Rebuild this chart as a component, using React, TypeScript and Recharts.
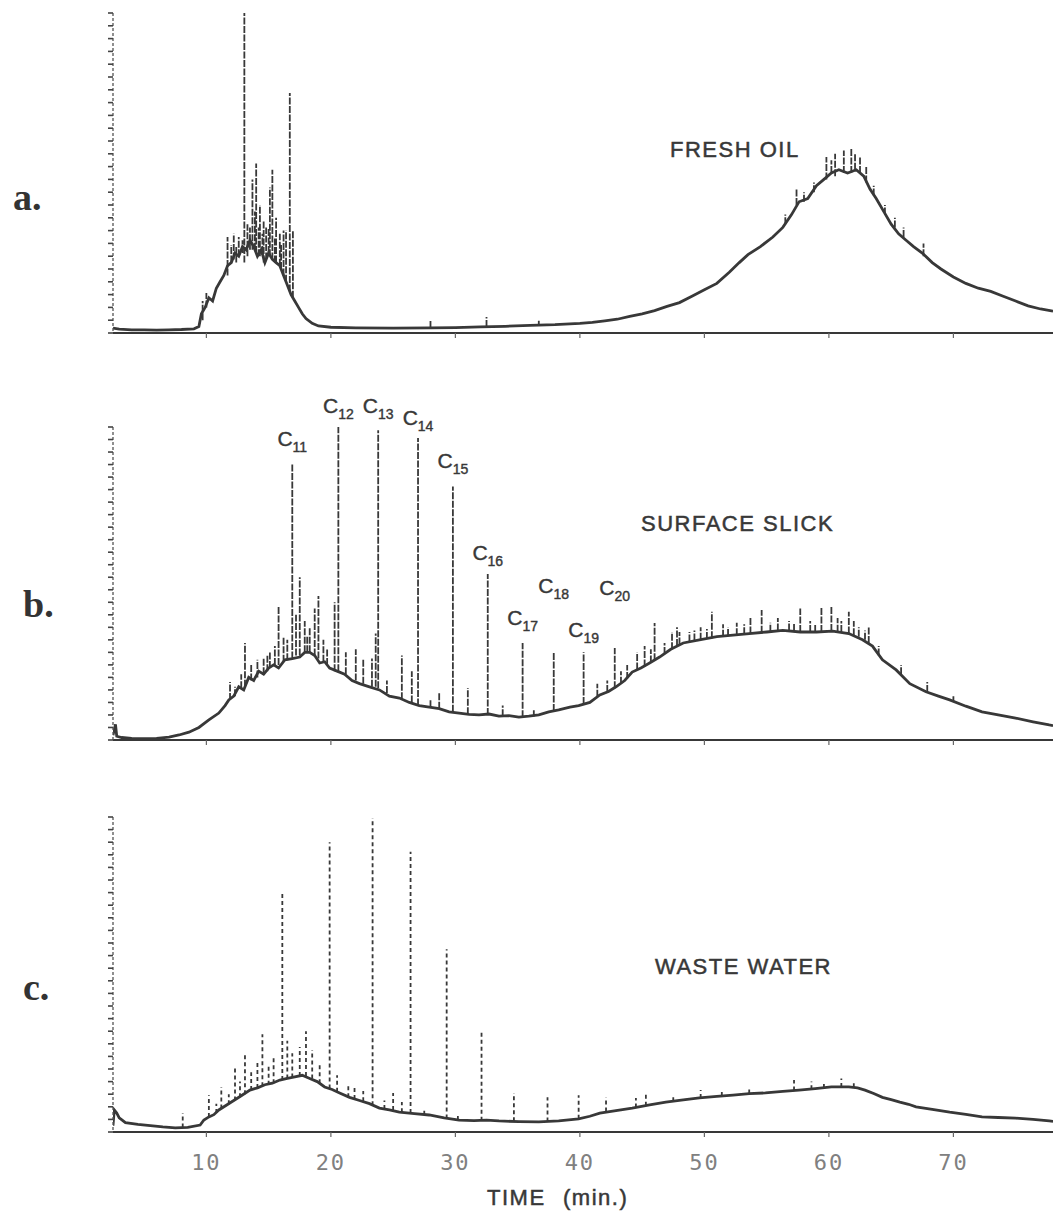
import React from 'react';
import { LineChart, Line, XAxis, YAxis, ReferenceDot } from 'recharts';

// retention time axis (min.)
const TIME_TICKS = [10, 20, 30, 40, 50, 60, 70];
const RESPONSE_TICKS = [0, 4, 8, 12, 16, 20, 24, 28, 32, 36, 40, 44, 48, 52, 56, 60, 64, 68, 72, 76, 80, 84, 88, 92, 96, 100];

// a. fresh oil: baseline trace [time, response]
const freshOilTrace: [number, number][] = [
  [2.5, 1.5], [3, 1.2], [4, 1.0], [5, 1.0], [6, 0.9], [7, 1.0], [8, 1.1], [9, 1.3], [9.4, 2], [9.6, 6],
  [9.9, 8], [10.2, 11], [10.5, 10], [10.8, 14], [11.1, 16], [11.4, 18], [11.7, 21], [12.0, 22], [12.3, 25],
  [12.6, 24], [12.9, 27], [13.2, 26], [13.5, 29], [13.8, 27], [14.1, 24], [14.4, 26], [14.7, 22], [15.0, 25],
  [15.3, 23], [15.6, 22], [15.9, 21], [16.2, 18], [16.5, 15], [16.8, 12], [17.1, 10], [17.4, 8], [17.7, 6],
  [18.0, 4.5], [18.5, 3], [19, 2.2], [20, 1.8], [22, 1.6], [25, 1.5], [28, 1.6], [30, 1.7], [32, 1.9],
  [34, 2.1], [36, 2.4], [38, 2.6], [40, 3.0], [41, 3.3], [42, 3.8], [43, 4.3], [44, 5.2], [45, 6], [46, 7],
  [47, 8.3], [48, 9.5], [49, 11.5], [50, 13.5], [51, 15.5], [52, 19], [52.8, 22], [53.5, 24.5], [54.5, 27],
  [55.5, 30], [56.3, 33], [57, 37], [57.6, 41], [58.3, 42], [59, 46], [59.6, 48], [60.2, 50], [60.8, 51],
  [61.5, 50], [62.2, 51], [62.8, 49], [63.3, 45], [63.8, 42], [64.4, 38], [65, 34], [65.6, 31], [66.2, 29],
  [66.8, 27], [67.5, 25], [68.3, 22], [69, 20], [70, 17.5], [71, 15.5], [72, 14], [73, 13], [74, 11.5],
  [75, 10], [76, 8.5], [77, 7.5], [78, 6.8],
];
// a. fresh oil: resolved peaks [time, foot, apex]
const freshOilPeaks: [number, number, number][] = [
  [9.7, 4, 10], [10.0, 8, 12.5], [11.7, 18, 30], [12.0, 22, 27.5], [12.2, 23, 31], [12.4, 22, 27],
  [12.6, 24, 30], [12.9, 25, 29], [13.05, 22, 100], [13.3, 24, 34], [13.5, 26, 33], [13.7, 26, 48],
  [13.9, 26, 38], [14.0, 25, 53], [14.2, 24, 33], [14.3, 24, 40], [14.5, 25, 31], [14.6, 22, 35],
  [14.8, 23, 33], [15.0, 25, 33], [15.1, 24, 45.5], [15.3, 23, 51], [15.5, 22, 30], [15.6, 22, 36],
  [15.9, 21, 31], [16.0, 20, 28], [16.2, 18, 32], [16.4, 16, 32], [16.7, 13, 75], [16.95, 11, 32],
  [28, 1.6, 4], [32.5, 1.9, 5], [36.7, 2.4, 3.8], [56.5, 34, 37], [57.4, 40, 45], [58, 41, 44],
  [58.8, 44, 47], [59.8, 48, 55], [60.2, 50, 54], [60.5, 49, 56], [61.2, 50, 57], [61.8, 50, 58],
  [62.1, 51, 56], [62.5, 50, 55], [63.0, 47, 52], [63.6, 43, 46], [64.5, 37, 40], [65.3, 33, 36],
  [66, 30, 33], [67.6, 24, 28],
];

// b. surface slick
const surfaceSlickTrace: [number, number][] = [
  [2.5, 1.5], [2.7, 5], [2.8, 1.2], [3.2, 0.8], [4, 0.5], [5, 0.4], [6, 0.5], [7, 0.9], [7.8, 1.6], [8.6, 2.5],
  [9.4, 4], [10.2, 6.4], [11, 8.6], [11.5, 11], [11.8, 12.8], [12.2, 14], [12.6, 17], [13.0, 16], [13.4, 20],
  [13.8, 19], [14.2, 22], [14.6, 21], [15.0, 23], [15.4, 24], [15.8, 23], [16.3, 25.6], [16.9, 26], [17.5, 26.5],
  [17.9, 28], [18.3, 28], [18.7, 27], [19.1, 24.6], [19.5, 25], [19.9, 23], [20.5, 22], [21.1, 21], [21.7, 19],
  [22.3, 18], [23.1, 17], [23.9, 16], [24.7, 14], [25.5, 13.4], [26.3, 12], [27.1, 11], [27.9, 10.5], [28.7, 10],
  [29.5, 9], [30.3, 8.6], [31.1, 8.2], [31.9, 8], [32.7, 8.3], [33.5, 7.6], [34.3, 7.8], [35.1, 7.3], [35.9, 7.6],
  [36.7, 8], [37.5, 9], [38.3, 9.6], [39.2, 10.5], [39.9, 11], [40.8, 12], [41.6, 14.4], [42.3, 15.5], [42.9, 17],
  [43.6, 19], [44.2, 21.7], [44.9, 23], [45.6, 24.6], [46.4, 26.5], [47.3, 29], [48.3, 31], [49.6, 32], [51, 33],
  [52.3, 33.5], [53.6, 34], [55, 34.5], [56.3, 35], [57.7, 34.5], [59, 34.5], [60.3, 34.8], [61.6, 34], [62.7, 32],
  [63.5, 30], [64.3, 25.6], [65.4, 22.4], [66.5, 18], [67.8, 15.4], [68.8, 14], [69.7, 12.8], [71, 10.8],
  [72.3, 9], [73.6, 8], [75, 7], [76.4, 5.8], [77.7, 4.8], [78, 4.6],
];
const surfaceSlickPeaks: [number, number, number][] = [
  [11.9, 12.8, 18.5], [12.3, 14, 17], [12.8, 16.5, 21], [13.1, 17, 31], [13.6, 19, 24], [14.1, 20, 25.6],
  [14.6, 21, 26], [14.9, 22, 27], [15.1, 23, 28], [15.5, 24, 30], [15.8, 24, 43], [16.2, 25, 33],
  [16.5, 25.5, 32], [16.9, 26, 88], [17.2, 27, 40], [17.5, 27, 52], [17.9, 28, 38], [18.1, 28, 33],
  [18.3, 28, 36], [18.7, 27, 42], [19.0, 26, 46], [19.4, 25, 32], [19.7, 24, 29], [20.3, 22, 44],
  [20.6, 22, 100], [21.2, 21, 28], [22.0, 19, 29], [22.6, 18, 26], [23.3, 17, 26], [23.6, 17, 34],
  [23.8, 16.5, 99], [24.5, 15, 19], [25.7, 13, 27], [26.5, 12, 22], [27.0, 11, 96.5], [28.0, 10.5, 13],
  [28.7, 10, 15], [29.8, 9, 81], [31.0, 8.2, 16.6], [32.6, 8, 53], [33.8, 7.6, 11], [35.4, 7.3, 31],
  [36.3, 7.5, 9.5], [37.9, 9.3, 28], [40.3, 11.5, 28], [41.4, 13.8, 18], [42.2, 15.3, 19], [42.8, 16.5, 29.4],
  [43.3, 18, 22], [43.8, 19.5, 24], [44.6, 22.5, 28], [45.2, 23.5, 30], [45.7, 24.8, 29], [46.0, 25.5, 37.4],
  [46.8, 27.5, 31], [47.4, 29, 34.5], [47.8, 30, 36], [48.0, 30.5, 34.5], [48.8, 31.5, 34.5], [49.2, 31.8, 35],
  [49.7, 32, 36], [50.2, 32.3, 35.5], [50.6, 32.5, 41], [51.5, 33, 37], [51.9, 33.2, 36], [52.6, 33.5, 37.5],
  [53.2, 33.8, 37], [53.7, 34, 39], [54.6, 34.3, 41.5], [55.3, 34.6, 37.5], [55.9, 35, 39], [56.8, 35, 38],
  [57.2, 34.8, 37.5], [57.7, 34.5, 42], [58.5, 34.5, 38], [58.9, 34.5, 37], [59.4, 34.5, 42.5],
  [60.2, 34.8, 42.5], [60.7, 34.6, 39], [61.0, 34.5, 38], [61.6, 34, 41], [62.0, 33.5, 38], [62.4, 33, 36],
  [62.9, 32, 35], [63.2, 31, 36], [64.0, 27, 30], [65.8, 21, 24], [67.9, 15.3, 18.5], [70.0, 12.5, 14],
];
// n-alkane labels: [carbon number, peak time, label height]
const alkaneLabels: [string, number, number][] = [
  ['11', 16.9, 94], ['12', 20.6, 104.5], ['13', 23.8, 104.5], ['14', 27.0, 100.6], ['15', 29.8, 87],
  ['16', 32.6, 57.5], ['17', 35.4, 36.7], ['18', 37.9, 47], ['19', 40.3, 33], ['20', 42.8, 46.3],
];

// c. waste water
const wasteWaterTrace: [number, number][] = [
  [2.5, 2], [2.6, 7], [2.8, 6], [3.0, 4.5], [3.5, 3], [4.5, 2.4], [5.5, 2], [6.5, 1.6], [7.5, 1.3], [8.5, 1.5],
  [9.5, 2.2], [9.8, 3.8], [10.2, 4.8], [10.6, 5.5], [11, 7], [11.6, 8.5], [12.2, 10], [12.8, 11.5], [13.5, 13.3],
  [14.1, 14], [14.7, 15], [15.3, 15.5], [15.9, 16.5], [16.5, 17], [17.1, 17.5], [17.7, 18], [18.3, 17],
  [18.9, 16], [19.5, 14.3], [20.1, 13.5], [20.7, 12.4], [21.5, 11], [22.3, 10], [23.1, 9], [23.9, 7.6],
  [24.7, 7], [25.5, 6.3], [26.7, 5.8], [27.9, 5.4], [29.1, 4.5], [30.3, 3.8], [31.5, 3.6], [32.5, 3.8],
  [33.5, 3.5], [35.1, 3.3], [36.7, 3.2], [38.3, 3.5], [39.9, 4.2], [40.8, 5], [41.6, 6], [42.9, 6.8],
  [44.2, 7.6], [45.6, 8.6], [46.9, 9.5], [48.3, 10.2], [49.6, 10.8], [51, 11.3], [52.3, 11.7], [53.6, 12.2],
  [54.9, 12.4], [56.3, 12.9], [57.6, 13.3], [58.9, 13.8], [60.2, 14.3], [61.6, 14.3], [62.3, 14], [62.9, 13.3],
  [63.6, 12.2], [64.3, 11], [65, 10.3], [65.7, 9.5], [66.4, 8.8], [67, 8], [68.3, 7.2], [69.7, 6.3], [71, 5.6],
  [72.3, 4.8], [73.6, 4.6], [75, 4.4], [76.4, 4], [77.7, 3.5], [78, 3.4],
];
const wasteWaterPeaks: [number, number, number][] = [
  [8.1, 1.4, 6], [10.2, 4.8, 11.7], [10.8, 6, 9], [11.2, 7.5, 14.3], [11.8, 8.8, 12], [12.3, 10, 21],
  [12.7, 11, 16], [13.1, 12, 24.4], [13.6, 13.3, 19], [14.1, 14, 22], [14.5, 14.5, 31], [15.0, 15, 21],
  [15.4, 15.5, 24], [16.1, 16.5, 76], [16.5, 17, 29], [16.9, 17.3, 25], [17.5, 17.8, 27], [18.0, 17.8, 32],
  [18.5, 17, 26], [19.1, 15.5, 22], [19.9, 13.8, 92], [20.5, 12.8, 18], [21.4, 11, 15], [21.9, 10.5, 14.3],
  [22.6, 9.8, 13], [23.35, 8.5, 99.7], [24.3, 7.3, 10], [25.0, 7, 12.4], [25.7, 6.3, 9.5], [26.4, 6, 89],
  [27.5, 5.5, 7], [29.3, 4.3, 58], [30.2, 3.8, 5.5], [32.1, 3.6, 32], [34.7, 3.4, 12.4], [37.4, 3.3, 11],
  [39.9, 4.2, 11.7], [42.1, 6.5, 11], [44.5, 7.8, 10.8], [45.3, 8.3, 12.4], [47.5, 9.8, 11.5],
  [49.7, 10.8, 13.3], [51.4, 11.4, 13], [53.6, 12.2, 14], [57.2, 13.2, 16.5], [58.6, 13.6, 16],
  [59.6, 14, 16.2], [61.0, 14.3, 17], [62.0, 14.2, 16],
];

const INK = '#383838';

const toTrace = (pts: [number, number][]) => pts.map(([t, v]) => ({ t, v }));
// each peak becomes a vertical stroke; the null breaks the line between peaks
const toPeaks = (pks: [number, number, number][]) =>
  pks.flatMap(([t, foot, apex]) => [
    { t, v: foot },
    { t, v: apex },
    { t, v: null },
  ]);

interface PanelProps {
  top: number;
  plotTop: number;
  plotHeight: number;
  trace: [number, number][];
  peaks: [number, number, number][];
  dash: string;
  bottom?: boolean;
  labels?: [string, number, number][];
}

function Panel({ top, plotTop, plotHeight, trace, peaks, dash, bottom, labels }: PanelProps) {
  const axisH = bottom ? 45 : 12;
  return (
    <div style={{ position: 'absolute', left: 0, top }}>
      <LineChart
        width={1053}
        height={plotTop + plotHeight + axisH}
        margin={{ top: plotTop, right: 0, bottom: 0, left: 112 }}
      >
        <XAxis
          dataKey="t"
          type="number"
          domain={[2.5, 78]}
          ticks={TIME_TICKS}
          allowDataOverflow
          height={axisH}
          tickSize={5}
          tickMargin={bottom ? 17 : 2}
          axisLine={{ stroke: INK, strokeWidth: 2 }}
          tickLine={{ stroke: '#666', strokeWidth: 1.2 }}
          tickFormatter={bottom ? undefined : () => ''}
          tick={{ fontFamily: 'DejaVu Sans Mono', fontSize: 22, fill: '#808080', letterSpacing: 2 }}
        />
        <YAxis
          type="number"
          domain={[0, 100]}
          ticks={RESPONSE_TICKS}
          allowDataOverflow
          width={1}
          tickSize={5}
          axisLine={{ stroke: '#555', strokeDasharray: '3 2', strokeWidth: 1.3 }}
          tickLine={{ stroke: '#444', strokeWidth: 1.6 }}
          tickFormatter={() => ''}
          tick={{ fontSize: 1 }}
        />
        <Line
          data={toTrace(trace)}
          dataKey="v"
          type="linear"
          stroke={INK}
          strokeWidth={2.8}
          dot={false}
          isAnimationActive={false}
        />
        <Line
          data={toPeaks(peaks)}
          dataKey="v"
          type="linear"
          stroke={INK}
          strokeWidth={1.8}
          strokeDasharray={dash}
          dot={false}
          connectNulls={false}
          isAnimationActive={false}
        />
        {labels &&
          labels.map(([n, t, v]) => (
            <ReferenceDot
              key={n}
              x={t}
              y={v}
              r={0}
              ifOverflow="visible"
              shape={(p: any) => (
                <text
                  x={p.cx}
                  y={p.cy}
                  textAnchor="middle"
                  fontFamily="Liberation Sans, Arial, sans-serif"
                  fill={INK}
                  stroke={INK}
                  strokeWidth={0.4}
                >
                  <tspan fontSize={21}>C</tspan>
                  <tspan fontSize={14} dy={6}>{n}</tspan>
                </text>
              )}
            />
          ))}
      </LineChart>
    </div>
  );
}

const titleStyle = {
  fontFamily: 'Liberation Sans, Arial, sans-serif',
  fontSize: 22,
  letterSpacing: 1.5,
  fill: INK,
  stroke: INK,
  strokeWidth: 0.5,
};
const letterStyle = {
  fontFamily: 'Liberation Serif, Times New Roman, serif',
  fontSize: 38,
  fontWeight: 700,
  fill: '#333',
};

export default function App() {
  return (
    <div
      style={{
        position: 'absolute',
        left: 0,
        top: 0,
        width: 1053,
        height: 1215,
        background: '#fff',
        overflow: 'hidden',
      }}
    >
      <Panel top={0} plotTop={13} plotHeight={320} trace={freshOilTrace} peaks={freshOilPeaks} dash="7 1.5" />
      <Panel
        top={380}
        plotTop={47}
        plotHeight={313}
        trace={surfaceSlickTrace}
        peaks={surfaceSlickPeaks}
        dash="7 1.5"
        labels={alkaneLabels}
      />
      <Panel
        top={790}
        plotTop={27}
        plotHeight={315}
        trace={wasteWaterTrace}
        peaks={wasteWaterPeaks}
        dash="4 3"
        bottom
      />
      <svg
        width={1053}
        height={1215}
        style={{ position: 'absolute', left: 0, top: 0, pointerEvents: 'none' }}
      >
        <text x={13} y={210} style={letterStyle}>a.</text>
        <text x={23} y={617} style={letterStyle}>b.</text>
        <text x={23} y={1000} style={letterStyle}>c.</text>
        <text x={670} y={157} style={titleStyle}>FRESH OIL</text>
        <text x={641} y={531} style={titleStyle}>SURFACE SLICK</text>
        <text x={655} y={974} style={titleStyle}>WASTE WATER</text>
        <text x={487} y={1205} style={titleStyle}>TIME</text>
        <text x={563} y={1205} style={titleStyle}>(min.)</text>
      </svg>
    </div>
  );
}
